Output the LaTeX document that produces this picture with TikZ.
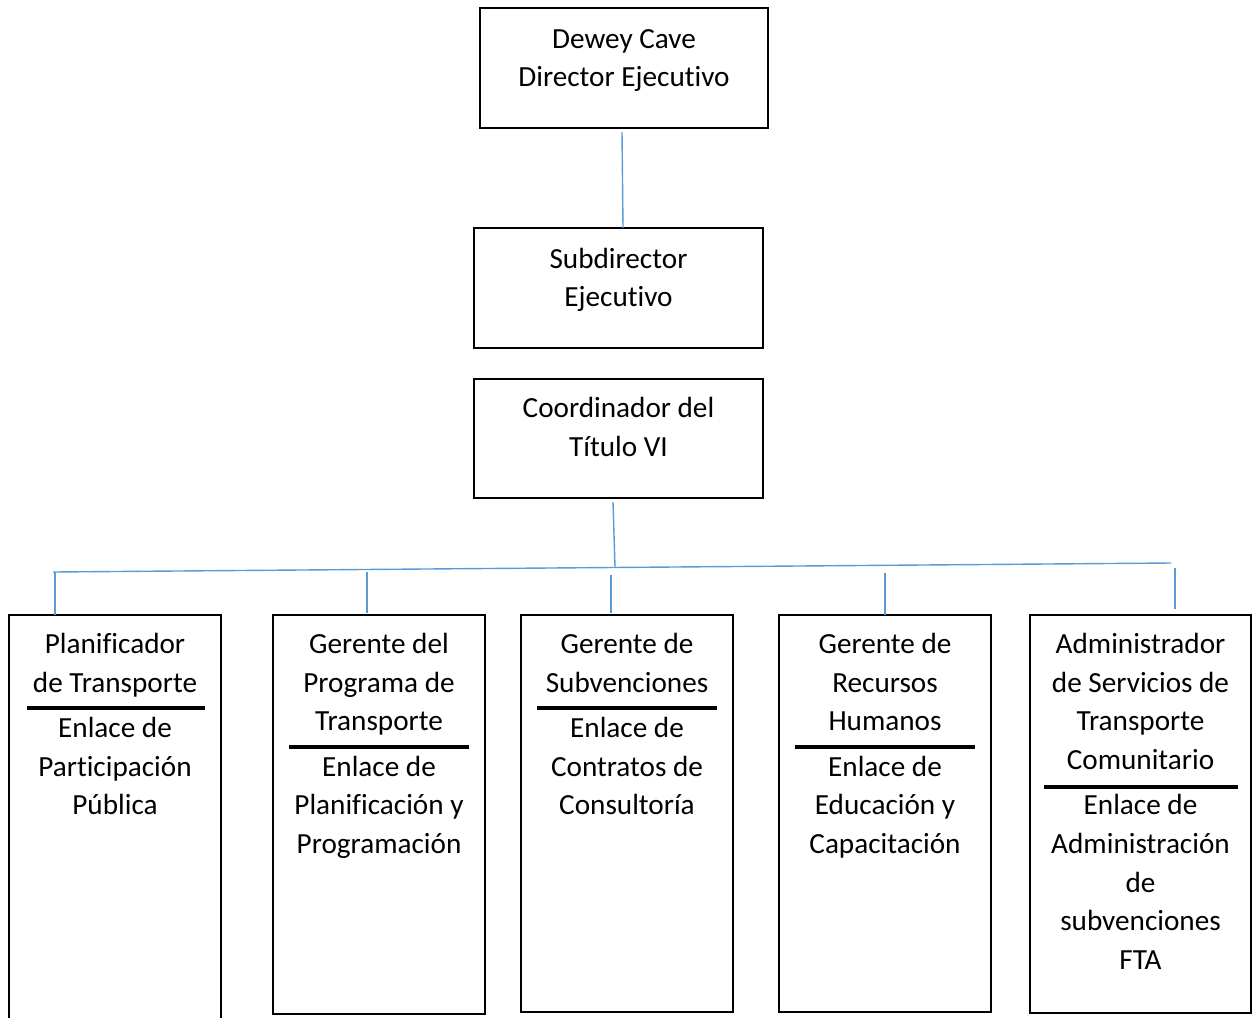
\documentclass[tikz,border=0pt]{standalone}
\usepackage{fontspec}
\setmainfont{Carlito}[Ligatures={NoCommon}]
\definecolor{linkblue}{RGB}{91,155,213}
\tikzset{
  box/.style={draw=black, line width=1.8pt, inner sep=0pt, outer sep=0pt, rectangle},
  conn/.style={draw=linkblue, line width=1.4pt},
  divider/.style={draw=black, line width=4pt},
  lbl/.style={anchor=base, inner sep=0pt, outer sep=0pt, font=\fontsize{29.2}{34}\selectfont}
}
\begin{document}
\begin{tikzpicture}[x=1pt,y=-1pt]
\useasboundingbox (0,0) rectangle (1257,1017);
\clip (0,0) rectangle (1257,1017);
% top boxes
\node[box, minimum width=288pt, minimum height=120pt] (dir) at (624,68) {};
\node[box, minimum width=289pt, minimum height=120pt] (sub) at (618.5,288) {};
\node[box, minimum width=289pt, minimum height=119pt] (coo) at (618.5,438.5) {};
\node[lbl] (dirA) at (624,48) {Dewey Cave};
\node[lbl] (dirB) at (624,86) {Director Ejecutivo};
\node[lbl] (subA) at (618.5,268) {Subdirector};
\node[lbl] (subB) at (618.5,306) {Ejecutivo};
\node[lbl] (cooA) at (618.5,417) {Coordinador del};
\node[lbl] (cooB) at (618.5,456) {Título VI};
% bottom boxes
\node[box, minimum width=212pt, minimum height=425pt] (q1) at (115,827.5) {};
\node[box, minimum width=212pt, minimum height=399pt] (q2) at (379,814.5) {};
\node[box, minimum width=212pt, minimum height=397pt] (q3) at (627,813.5) {};
\node[box, minimum width=212pt, minimum height=397pt] (q4) at (885,813.5) {};
\node[box, minimum width=221pt, minimum height=398pt] (q5) at (1140.5,814) {};
% dividers
\draw[divider] (27,708) -- (205,708);
\draw[divider] (289,747) -- (469,747);
\draw[divider] (537,708) -- (717,708);
\draw[divider] (795,747) -- (975,747);
\draw[divider] (1044,787) -- (1238,787);
% box 1 text
\node[lbl] (q1a) at (115,653) {Planificador};
\node[lbl] (q1b) at (115,692) {de Transporte};
\node[lbl] (q1c) at (115,737) {Enlace de};
\node[lbl] (q1d) at (115,776) {Participación};
\node[lbl] (q1e) at (115,814) {Pública};
% box 2 text
\node[lbl] (q2a) at (379,653) {Gerente del};
\node[lbl] (q2b) at (379,692) {Programa de};
\node[lbl] (q2c) at (379,730) {Transporte};
\node[lbl] (q2d) at (379,776) {Enlace de};
\node[lbl] (q2e) at (379,814) {Planificación y};
\node[lbl] (q2f) at (379,853) {Programación};
% box 3 text
\node[lbl] (q3a) at (627,653) {Gerente de};
\node[lbl] (q3b) at (627,692) {Subvenciones};
\node[lbl] (q3c) at (627,737) {Enlace de};
\node[lbl] (q3d) at (627,776) {Contratos de};
\node[lbl] (q3e) at (627,814) {Consultoría};
% box 4 text
\node[lbl] (q4a) at (885,653) {Gerente de};
\node[lbl] (q4b) at (885,692) {Recursos};
\node[lbl] (q4c) at (885,730) {Humanos};
\node[lbl] (q4d) at (885,776) {Enlace de};
\node[lbl] (q4e) at (885,814) {Educación y};
\node[lbl] (q4f) at (885,853) {Capacitación};
% box 5 text
\node[lbl] (q5a) at (1140.5,653) {Administrador};
\node[lbl] (q5b) at (1140.5,692) {de Servicios de};
\node[lbl] (q5c) at (1140.5,730) {Transporte};
\node[lbl] (q5d) at (1140.5,769) {Comunitario};
\node[lbl] (q5e) at (1140.5,814) {Enlace de};
\node[lbl] (q5f) at (1140.5,853) {Administración};
\node[lbl] (q5g) at (1140.5,892) {de};
\node[lbl] (q5h) at (1140.5,930) {subvenciones};
\node[lbl] (q5i) at (1140.5,969) {FTA};
% connectors
\draw[conn] ([xshift=-2pt,yshift=-4pt]dir.south) -- ([xshift=4.5pt]sub.north);
\coordinate (busL) at (53,572);
\coordinate (busR) at (1171,563);
\coordinate (busM) at (615,567);
\draw[conn] ([xshift=-5.5pt,yshift=-4pt]coo.south) -- (busM);
\draw[conn] (busL) -- (busR);
\coordinate (d1) at (55,572);
\coordinate (d2) at (367,572);
\coordinate (d3) at (611,575);
\coordinate (d4) at (885,573);
\coordinate (d5) at (1175,568);
\draw[conn] (d1) -- ([xshift=-60pt]q1.north);
\draw[conn] (d2) -- ([xshift=-12pt,yshift=2pt]q2.north);
\draw[conn] (d3) -- ([xshift=-16pt,yshift=2pt]q3.north);
\draw[conn] (d4) -- (q4.north);
\draw[conn] (d5) -- ([xshift=34.5pt,yshift=6pt]q5.north);
\end{tikzpicture}
\end{document}
